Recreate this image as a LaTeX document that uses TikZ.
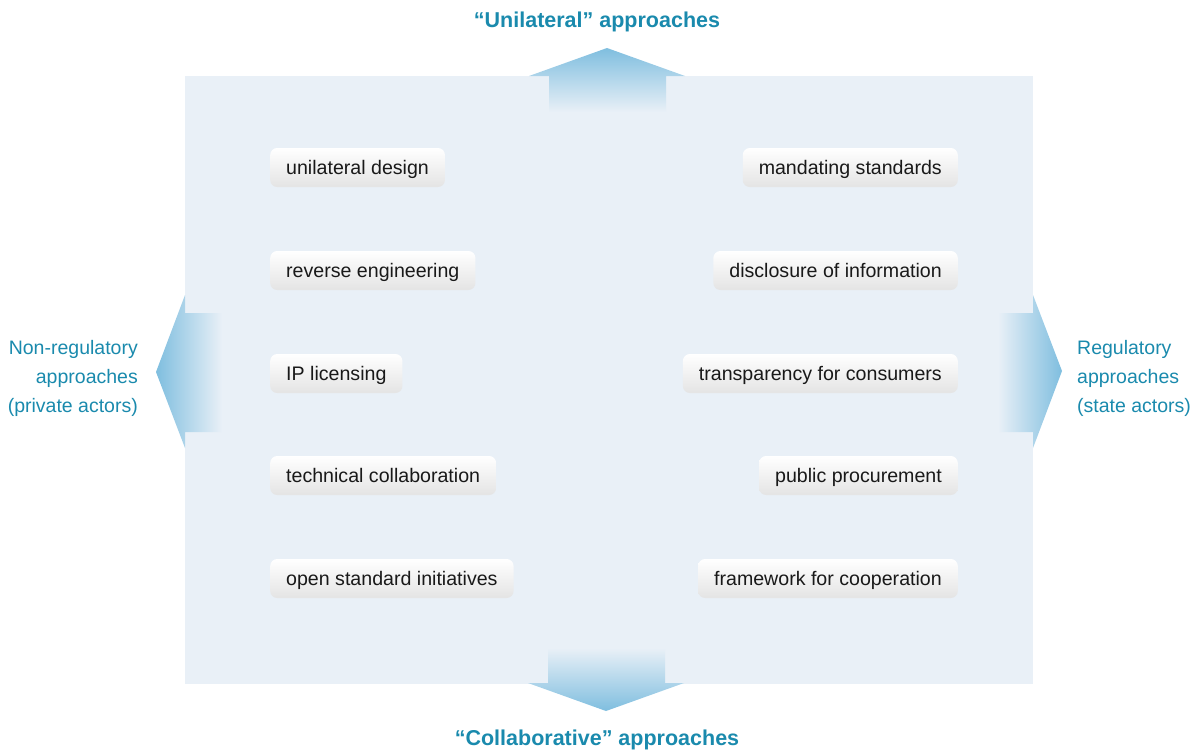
\documentclass[tikz,border=0pt]{standalone}
\usepackage{fontspec}
\setmainfont{Liberation Sans}
\definecolor{panel}{HTML}{E9F0F7}
\definecolor{arrowblue}{HTML}{7FBEDF}
\definecolor{teal}{HTML}{1A8AAD}
\definecolor{boxbot}{HTML}{E4E4E4}
\begin{document}
\begin{tikzpicture}[x=1pt,y=-1pt,
  itembox/.style={rounded corners=7pt, top color=white, bottom color=boxbot,
    minimum height=39pt, inner xsep=16pt, inner ysep=0pt,
    text height=14pt, text depth=0pt,
    font=\fontsize{19.6}{22}\selectfont, text=black!90},
  sidelabel/.style={text=teal, font=\fontsize{19.5}{29}\selectfont, inner sep=0pt},
  titlelabel/.style={text=teal, font=\fontsize{21.5}{24}\selectfont\bfseries, inner sep=0pt}]
\useasboundingbox (0,0) rectangle (1201,750);
% panel
\fill[panel] (185,76) rectangle (1033,684);
% top arrow
\shade[top color=arrowblue, bottom color=panel]
  (607,48) -- (685,76) -- (666,76) -- (666,112) -- (549,112) -- (549,76) -- (529,76) -- cycle;
% bottom arrow
\shade[top color=panel, bottom color=arrowblue]
  (606,711) -- (684,683) -- (665,683) -- (665,648) -- (548,648) -- (548,683) -- (528,683) -- cycle;
% left arrow
\shade[left color=arrowblue, right color=panel]
  (156,372) -- (185,295) -- (185,313) -- (222,313) -- (222,432) -- (185,432) -- (185,448) -- cycle;
% right arrow
\shade[left color=panel, right color=arrowblue]
  (1062,371) -- (1033,295) -- (1033,313) -- (998,313) -- (998,432) -- (1033,432) -- (1033,448) -- cycle;
% titles
\node[titlelabel] (top) at (597,22) {“Unilateral” approaches};
\node[titlelabel] (bottom) at (597,740) {“Collaborative” approaches};
\node[sidelabel, align=right, anchor=east] (left) at (138,378) {Non-regulatory\\approaches\\(private actors)};
\node[sidelabel, align=left, anchor=west] (right) at (1077,378) {Regulatory\\approaches\\(state actors)};
% left boxes
\node[itembox, anchor=west] (l1) at (270,167.5) {unilateral design};
\node[itembox, anchor=west] (l2) at (270,270.5) {reverse engineering};
\node[itembox, anchor=west] (l3) at (270,373.5) {IP licensing};
\node[itembox, anchor=west] (l4) at (270,475.5) {technical collaboration};
\node[itembox, anchor=west] (l5) at (270,578.5) {open standard initiatives};
% right boxes
\node[itembox, anchor=east] (r1) at (958,167.5) {mandating standards};
\node[itembox, anchor=east] (r2) at (958,270.5) {disclosure of information};
\node[itembox, anchor=east] (r3) at (958,373.5) {transparency for consumers};
\node[itembox, anchor=east] (r4) at (958,475.5) {public procurement};
\node[itembox, anchor=east] (r5) at (958,578.5) {framework for cooperation};
\end{tikzpicture}
\end{document}
